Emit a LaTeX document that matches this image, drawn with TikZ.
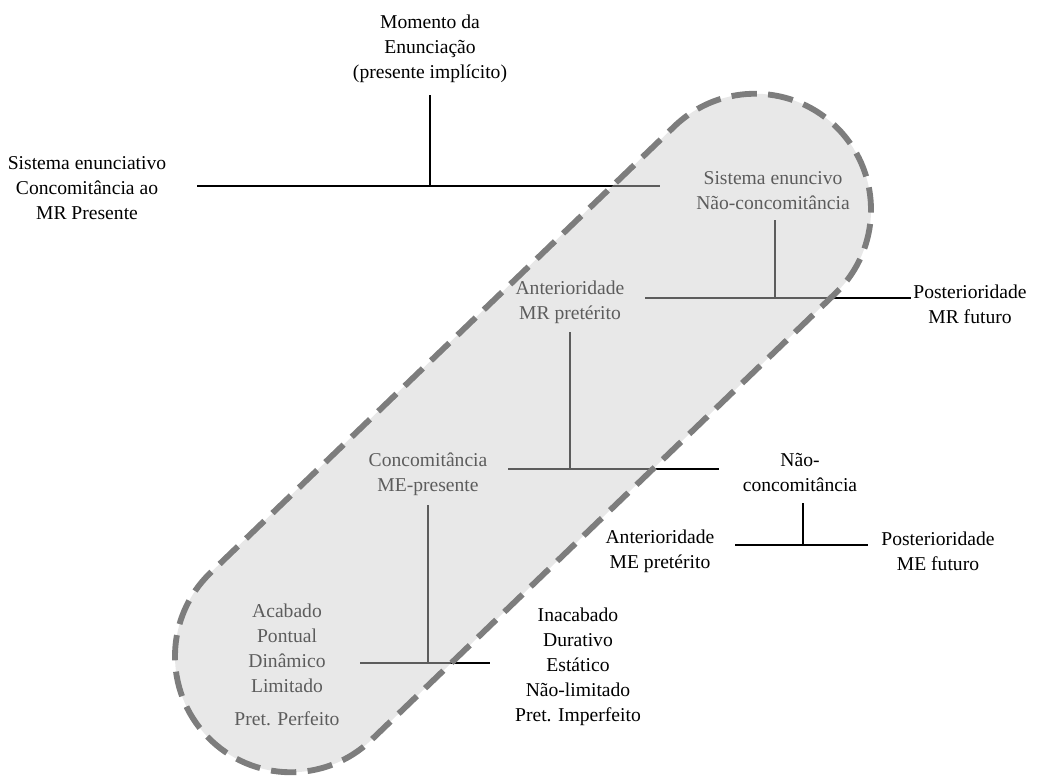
\documentclass[tikz,border=0pt]{standalone}
\usepackage{fontspec}
\setmainfont{Liberation Serif}
\begin{document}
\begin{tikzpicture}[x=0.75pt,y=-0.75pt,
  lbl/.style={inner sep=0pt, align=center, font=\fontsize{14.7pt}{18.75pt}\selectfont},
  bar/.style={line width=2.1pt, line cap=butt},
  zone/.style={fill={rgb,255:red,205;green,205;blue,205}, fill opacity=0.45,
    draw={rgb,255:red,125;green,125;blue,125}, line width=4.4pt,
    dash pattern=on 19pt off 8.5pt}]
\useasboundingbox (0,0) rectangle (1053,775);

% labels
\node[lbl] (mom) at (430,49) {Momento da\\Enunciação\\(presente implícito)};
\node[lbl] (sen) at (87,188) {Sistema enunciativo\\Concomitância ao\\MR Presente};
\node[lbl] (snc) at (773,191) {Sistema enuncivo\\Não-concomitância};
\node[lbl] (pmr) at (970,304) {Posterioridade\\MR futuro};
\node[lbl] (amr) at (570,302) {Anterioridade\\MR pretérito};
\node[lbl] (cme) at (428,474) {Concomitância\\ME-presente};
\node[lbl] (nco) at (800,472) {Não-\\concomitância};
\node[lbl] (ame) at (660,551) {Anterioridade\\ME pretérito};
\node[lbl] (pme) at (938,551) {Posterioridade\\ME futuro};
\node[lbl] (acb) at (287,665) {Acabado\\Pontual\\Dinâmico\\Limitado\\[6pt]Pret. Perfeito};
\node[lbl] (ina) at (578,667) {Inacabado\\Durativo\\Estático\\Não-limitado\\Pret. Imperfeito};

% end points of the time axes
\coordinate (m1) at (430,95);  \coordinate (j1) at (430,186);
\coordinate (a1) at (197,186); \coordinate (b1) at (660,186);
\coordinate (m2) at (775,220); \coordinate (j2) at (775,298);
\coordinate (a2) at (645,298); \coordinate (b2) at (911,298);
\coordinate (m3) at (570,332); \coordinate (j3) at (570,469);
\coordinate (a3) at (508,469); \coordinate (b3) at (719,469);
\coordinate (m4) at (803,503); \coordinate (j4) at (803,545);
\coordinate (a4) at (735,545); \coordinate (b4) at (868,545);
\coordinate (m5) at (428,505); \coordinate (j5) at (428,663);
\coordinate (a5) at (360,663); \coordinate (b5) at (490,663);

\foreach \k in {1,...,5}{
  \draw[bar] (a\k) -- (b\k);
  \draw[bar] (m\k) -- (j\k);
}

% shaded zone of the enuncive system
\draw[zone, shift={(523,433)}, rotate=43.9, rounded corners=87pt]
  (-438,-116) rectangle (438,116);
\end{tikzpicture}
\end{document}
